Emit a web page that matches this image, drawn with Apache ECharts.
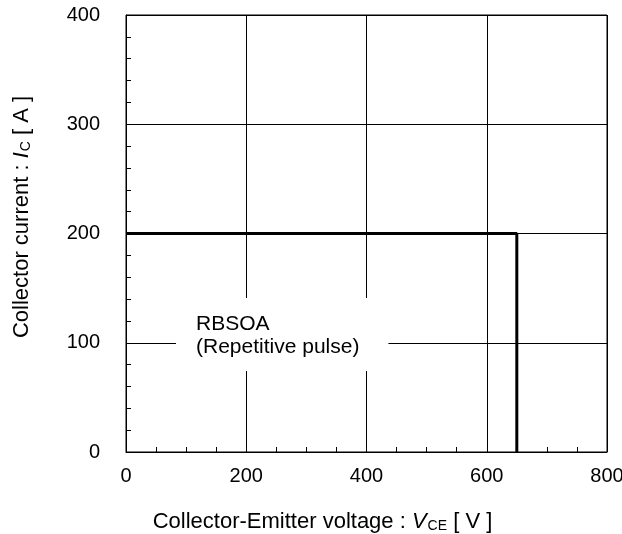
<!DOCTYPE html>
<html>
<head>
<meta charset="utf-8">
<script src="https://cdn.jsdelivr.net/npm/echarts@6/dist/echarts.min.js"></script>
<style>
  html, body { margin: 0; padding: 0; background: #fff; }
  #chart { width: 622px; height: 534px; }
</style>
</head>
<body>
<div id="chart"></div>
<script>
// RBSOA boundary: V_CE [V], I_C [A]
const vce = [0, 650, 650]
const ic = [200, 200, 0]
const xTicks = [0, 200, 400, 600, 800]
const yTicks = [0, 100, 200, 300, 400]
const noteLines = ['RBSOA', '(Repetitive pulse)']

const font = 'Arial, "Liberation Sans", sans-serif'
const chart = echarts.init(document.getElementById('chart'))

const subStyle = { fontSize: 14, fontFamily: font, color: '#000', padding: [9, 0, 0, 1] }
const nStyle = { fontSize: 22, fontFamily: font, color: '#000' }
const iStyle = { fontSize: 22, fontFamily: font, color: '#000', fontStyle: 'italic' }

chart.setOption({
  animation: false,
  grid: {
    left: 126, right: 15, top: 15, bottom: 82,
    outerBoundsMode: 'none',
    show: true, borderColor: '#000', borderWidth: 1
  },
  xAxis: {
    type: 'value',
    min: xTicks[0], max: xTicks[xTicks.length - 1], interval: 200,
    name: '{n|Collector-Emitter voltage : }{i|V}{s|CE}{n| [ V ]}',
    nameLocation: 'middle',
    nameGap: 58,
    nameTextStyle: { padding: [0, 88, 0, 0], rich: { n: nStyle, i: iStyle, s: subStyle } },
    axisLine: { lineStyle: { color: '#000', width: 1 } },
    axisTick: { show: true, inside: true, length: 5, lineStyle: { color: '#000' } },
    minorTick: { show: true, splitNumber: 4, length: 5, lineStyle: { color: '#000' } },
    axisLabel: { color: '#000', fontSize: 20, fontFamily: font, margin: 14 },
    splitLine: { show: true, lineStyle: { color: '#000', width: 1 } }
  },
  yAxis: {
    type: 'value',
    min: yTicks[0], max: yTicks[yTicks.length - 1], interval: 100,
    name: '{n|Collector current : }{i|I}{s|C}{n| [ A ]}',
    nameLocation: 'middle',
    nameGap: 93,
    nameTextStyle: { padding: [0, 0, 0, 33], rich: { n: nStyle, i: iStyle, s: subStyle } },
    axisLine: { lineStyle: { color: '#000', width: 1 } },
    axisTick: { show: true, inside: true, length: 5, lineStyle: { color: '#000' } },
    minorTick: { show: true, splitNumber: 5, length: 5, lineStyle: { color: '#000' } },
    axisLabel: { color: '#000', fontSize: 20, fontFamily: font, margin: 26 },
    splitLine: { show: true, lineStyle: { color: '#000', width: 1 } }
  },
  graphic: [{
    type: 'text',
    left: 176,
    top: 298,
    z: 100,
    style: {
      text: noteLines.join('\n'),
      font: '21px ' + font,
      fill: '#000',
      lineHeight: 23,
      backgroundColor: '#fff',
      padding: [15, 29, 12, 20]
    }
  }],
  series: [{
    type: 'line',
    data: vce.map((v, i) => [v, ic[i]]),
    symbol: 'none',
    lineStyle: { color: '#000', width: 3 },
    z: 10
  }]
})
</script>
</body>
</html>
